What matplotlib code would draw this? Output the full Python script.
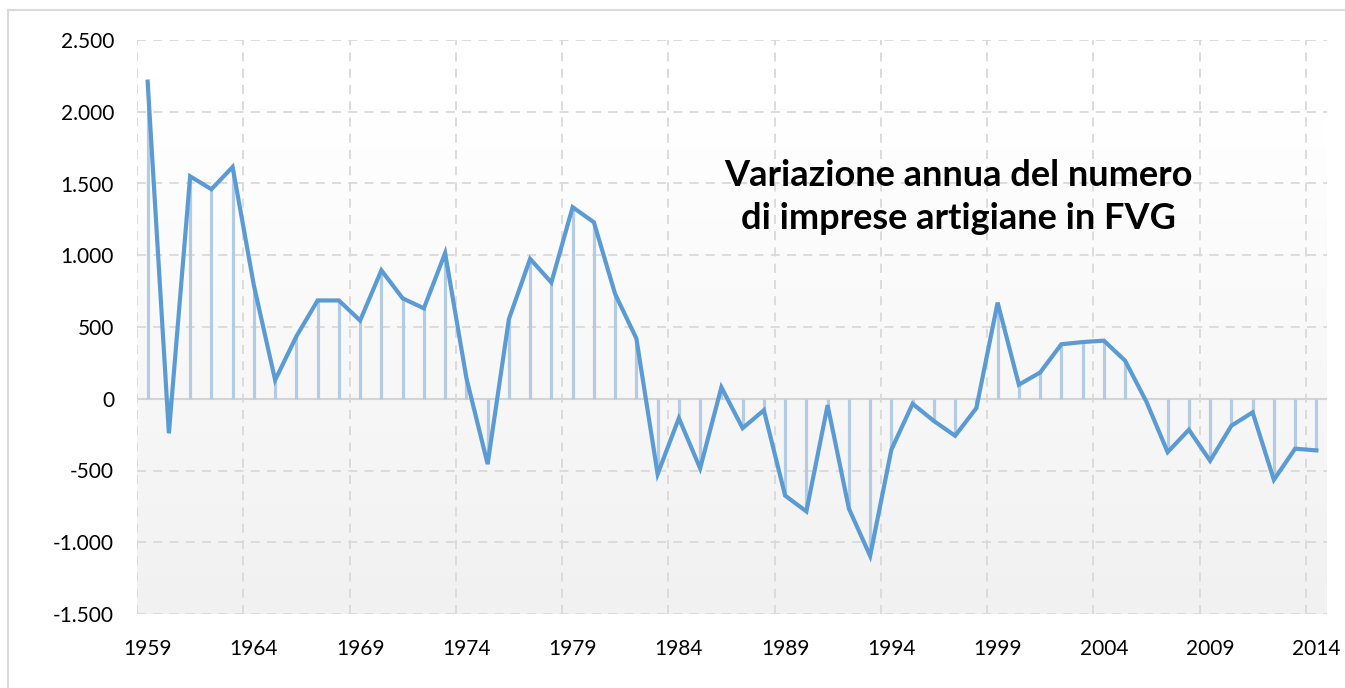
import numpy as np
import matplotlib
matplotlib.use('Agg')
from matplotlib import pyplot as plt
from matplotlib.ticker import FuncFormatter
from matplotlib.lines import Line2D

plt.rcParams['font.family'] = ['Lato', 'DejaVu Sans']

years = list(range(1959, 2015))
values = [2210, -240, 1550, 1460, 1615, 790, 130, 435, 685, 685,
          545, 895, 700, 630, 1015, 145, -455, 555, 975, 810,
          1335, 1230, 730, 420, -525, -135, -485, 80, -205, -80,
          -675, -785, -45, -765, -1095, -355, -35, -155, -258, -65,
          670, 98, 183, 380, 395, 405, 265, -20, -372, -216,
          -432, -188, -95, -565, -348, -360]
yticks = [-1500, -1000, -500, 0, 500, 1000, 1500, 2000, 2500]
title = 'Variazione annua del numero\ndi imprese artigiane in FVG'

x = np.arange(len(years))

fig = plt.figure(figsize=(13.45, 6.88), dpi=100)
ax = fig.add_axes([137/1345, 74/688, 1190/1345, 574/688])

# gradient background of the plot area (white on top, light gray at bottom)
grad = np.linspace(0, 1, 256)
grad = np.clip((grad - 0.12) / 0.88, 0, 1)
col = 1 - grad * (1 - 0xf1/255)
img = np.repeat(col[:, None, None], 3, axis=2).repeat(2, axis=1)
ax.imshow(img, aspect='auto', extent=[-0.5, len(years) - 0.5, -1500, 2500],
          origin='upper', zorder=0, interpolation='bilinear')

ax.set_xlim(-0.5, len(years) - 0.5)
ax.set_ylim(-1500, 2500)

# grid
for v in yticks:
    if v == 0:
        ax.axhline(0, color='#d4d4d4', lw=1.5, zorder=1)
    else:
        ax.axhline(v, color='#d9d9d9', lw=1.3, ls=(0, (5, 4)), zorder=1)
for b in np.arange(-0.5, len(years), 5):
    ax.axvline(b, color='#d9d9d9', lw=1.3, ls=(0, (5, 4)), zorder=1)

ax.vlines(x, 0, values, color='#b3cbe3', lw=2.3, zorder=2)
ax.plot(x, values, color='#5b9bd5', lw=3, zorder=3, solid_joinstyle='miter')

ax.set_xticks(x[::5])
ax.set_xticklabels([str(y) for y in years[::5]])
ax.set_yticks(yticks)
ax.yaxis.set_major_formatter(FuncFormatter(lambda v, p: f'{int(v):,}'.replace(',', '.')))
ax.tick_params(axis='both', length=0, labelsize=15, colors='black')
ax.tick_params(axis='y', pad=16.5)
ax.tick_params(axis='x', pad=18)
for s in ax.spines.values():
    s.set_visible(False)

fig.text(958/1345, 1 - 197/688, title, ha='center', va='center',
         fontsize=26, fontweight='bold', linespacing=1.35)

# outer chart border
fig.add_artist(Line2D([8/1345, 8/1345], [0, 1 - 10/688], color='#d9d9d9', lw=1.5))
fig.add_artist(Line2D([8/1345, 1], [1 - 10/688, 1 - 10/688], color='#d9d9d9', lw=1.5))

plt.savefig('out.png', dpi=100)
plt.close()
